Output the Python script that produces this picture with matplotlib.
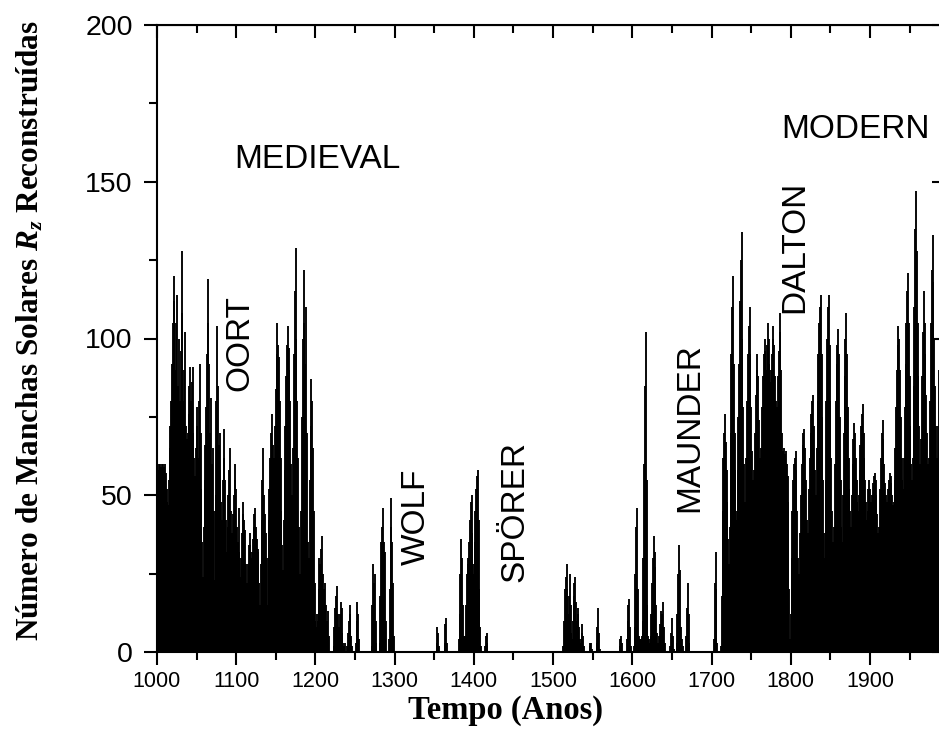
import numpy as np
import matplotlib
matplotlib.use("Agg")
import matplotlib.pyplot as plt
from matplotlib.ticker import MultipleLocator

# ---- data: reconstructed annual sunspot number, one list per century ----
r_1000 = [30, 46, 58, 60, 60, 59, 60, 58, 60, 59,
          60, 57, 52, 48, 47, 55, 65, 72, 80, 92,
          105, 112, 120, 90, 105, 114, 85, 72, 100, 80,
          96, 128, 108, 80, 90, 102, 72, 66, 68, 70,
          76, 85, 91, 80, 86, 91, 70, 62, 56, 65,
          72, 78, 62, 80, 92, 70, 52, 35, 24, 40,
          55, 66, 78, 95, 105, 119, 92, 70, 81, 60,
          55, 65, 45, 23, 50, 80, 104, 85, 66, 58,
          70, 48, 42, 55, 62, 71, 55, 42, 32, 40,
          50, 58, 65, 45, 34, 38, 44, 50, 55, 60]
r_1100 = [52, 40, 35, 46, 32, 24, 30, 38, 44, 48,
          42, 39, 28, 17, 22, 28, 34, 38, 34, 30,
          32, 36, 40, 44, 46, 40, 36, 33, 32, 22,
          15, 28, 42, 55, 65, 50, 44, 38, 30, 15,
          30, 42, 52, 62, 70, 76, 66, 58, 62, 72,
          84, 95, 105, 98, 94, 80, 62, 45, 34, 26,
          42, 58, 72, 88, 98, 104, 90, 97, 80, 60,
          50, 41, 65, 95, 115, 129, 100, 80, 62, 40,
          25, 17, 45, 75, 100, 122, 105, 92, 110, 70,
          35, 10, 30, 55, 72, 87, 80, 65, 45, 22]
r_1200 = [10, 8, 12, 10, 20, 30, 28, 33, 37, 25,
          18, 20, 22, 15, 8, 10, 13, 5, 0, 0,
          0, 0, 0, 2, 8, 14, 18, 21, 12, 6,
          8, 12, 16, 14, 6, 3, 2, 3, 0, 0,
          2, 6, 10, 15, 12, 5, 2, 0, 0, 0,
          0, 3, 10, 16, 12, 4, 0, 0, 0, 0,
          0, 0, 0, 0, 0, 0, 0, 0, 0, 0,
          0, 2, 15, 28, 22, 25, 10, 3, 0, 0,
          0, 3, 18, 35, 40, 46, 35, 28, 32, 10,
          0, 0, 0, 4, 20, 40, 49, 35, 22, 5]
r_1300 = [0, 0, 0, 0, 0, 0, 0, 0, 0, 0,
          0, 0, 0, 0, 0, 0, 0, 0, 0, 0,
          0, 0, 0, 0, 0, 0, 0, 0, 0, 0,
          0, 0, 0, 0, 0, 0, 0, 0, 0, 0,
          0, 0, 0, 0, 0, 0, 0, 0, 0, 0,
          0, 0, 0, 3, 8, 6, 2, 0, 0, 0,
          0, 0, 0, 3, 9, 11, 3, 0, 0, 0,
          0, 0, 0, 0, 0, 0, 0, 0, 0, 0,
          0, 4, 12, 25, 36, 30, 15, 5, 0, 5,
          15, 25, 30, 28, 35, 42, 48, 50, 38, 28]
r_1400 = [25, 35, 45, 52, 56, 58, 42, 20, 8, 2,
          0, 0, 0, 0, 2, 5, 6, 3, 0, 0] + [0] * 80
r_1500 = [0] * 13 + [2, 10, 20, 24, 28, 20, 12,
                     18, 25, 15, 6, 4, 10, 18, 22, 24, 16,
                     10, 12, 14, 8, 4, 3, 6, 9, 5, 2,
                     0, 0, 0, 0, 0, 0, 2, 3, 3, 1,
                     0, 0, 0, 0, 0, 3, 8, 14, 6, 1] + [0] * 24 + \
         [2, 4, 5, 3, 0, 0, 0, 0, 0, 4, 10, 15, 17, 8, 2, 0]
r_1600 = [0, 0, 2, 8, 25, 40, 46, 20, 5, 3,
          4, 4, 5, 10, 30, 60, 85, 102, 55, 15,
          5, 4, 3, 5, 12, 22, 30, 37, 32, 27,
          15, 6, 3, 2, 5, 9, 13, 10, 12, 16,
          8, 3, 0, 0, 0, 0, 0, 0, 2, 6,
          11, 5, 1, 0, 0, 0, 3, 12, 25, 34,
          26, 8, 3, 4, 2, 0, 0, 0, 5, 14,
          22, 12, 3] + [0] * 27
r_1700 = [0, 0, 0, 4, 22, 32, 20, 3, 0, 0,
          0, 0, 2, 18, 45, 62, 70, 76, 67, 58,
          48, 36, 28, 40, 70, 95, 110, 120, 92, 70,
          58, 45, 42, 58, 75, 92, 112, 125, 134, 100,
          78, 60, 48, 45, 62, 80, 95, 104, 110, 95,
          78, 64, 55, 50, 58, 70, 82, 90, 95, 88,
          74, 62, 56, 65, 78, 88, 95, 100, 96, 90,
          98, 105, 100, 92, 86, 90, 95, 100, 104, 98,
          88, 80, 72, 78, 88, 96, 102, 108, 90, 70,
          64, 62, 65, 63, 64, 60, 56, 48, 20, 4]
r_1800 = [12, 30, 45, 55, 60, 62, 64, 58, 45, 30,
          16, 25, 38, 50, 60, 66, 70, 71, 65, 55,
          42, 30, 38, 52, 62, 70, 76, 80, 82, 72,
          58, 45, 50, 65, 80, 95, 105, 110, 114, 95,
          75, 55, 38, 30, 55, 80, 100, 110, 114, 98,
          80, 62, 45, 35, 24, 40, 60, 80, 92, 98,
          103, 95, 75, 55, 40, 35, 50, 70, 88, 100,
          108, 95, 78, 62, 52, 45, 40, 50, 60, 68,
          73, 70, 62, 55, 48, 45, 50, 58, 66, 72,
          76, 79, 70, 62, 55, 48, 42, 45, 52, 55]
r_1900 = [52, 48, 45, 50, 54, 56, 57, 55, 50, 44,
          38, 32, 40, 52, 62, 70, 74, 68, 60, 54,
          50, 46, 48, 52, 55, 57, 56, 54, 50, 47,
          48, 55, 65, 78, 90, 98, 104, 100, 90, 75,
          62, 55, 52, 62, 78, 92, 105, 115, 121, 105,
          88, 72, 60, 55, 62, 85, 110, 135, 147, 128,
          105, 88, 72, 60, 55, 68, 88, 102, 115, 105,
          95, 82, 70, 60, 55, 62, 80, 105, 122, 133,
          118, 100, 85, 72, 62, 60, 72, 90, 100, 95]

centuries = [1000, 1100, 1200, 1300, 1400, 1500, 1600, 1700, 1800, 1900]
series = [r_1000, r_1100, r_1200, r_1300, r_1400,
          r_1500, r_1600, r_1700, r_1800, r_1900]

x_ticks = [1000, 1100, 1200, 1300, 1400, 1500, 1600, 1700, 1800, 1900]
y_ticks = [0, 50, 100, 150, 200]

labels = ["MEDIEVAL", "MODERN", "OORT", "DALTON", "WOLF", "SPÖRER", "MAUNDER"]
label_x = [1203, 1882, 1105, 1805, 1327, 1452, 1672]
label_y = [157, 166.7, 98.6, 129.3, 43.1, 44.7, 71.5]
label_rot = [0, 0, 90, 90, 90, 90, 90]

years = np.concatenate([c + np.arange(len(s)) for c, s in zip(centuries, series)])
values = np.concatenate([np.asarray(s, float) for s in series])

# ---- figure ----
plt.rcParams["font.family"] = ["Liberation Sans", "DejaVu Sans"]
plt.rcParams["mathtext.fontset"] = "custom"
plt.rcParams["mathtext.it"] = "Liberation Serif:bold:italic"
plt.rcParams["mathtext.rm"] = "Liberation Serif:bold"
plt.rcParams["mathtext.bf"] = "Liberation Serif:bold"

W, H = 939, 749
fig = plt.figure(figsize=(W / 100, H / 100), dpi=100)
x0, x1, ytop, ybot = 157, 949.2, 25, 652
ax = fig.add_axes([x0 / W, 1 - ybot / H, (x1 - x0) / W, (ybot - ytop) / H])

ax.vlines(years, 0, values, color="black", linewidth=1.35)

ax.set_xlim(1000, 2000)
ax.set_ylim(0, 200)

ax.xaxis.set_minor_locator(MultipleLocator(50))
ax.yaxis.set_minor_locator(MultipleLocator(25))
ax.set_xticks(x_ticks)
ax.set_yticks(y_ticks)
ax.set_xticklabels([str(v) for v in x_ticks], fontsize=15.5)
ax.set_yticklabels([str(v) for v in y_ticks], fontsize=20.5)

for s in ax.spines.values():
    s.set_linewidth(1.5)

ax.tick_params(axis="x", which="both", bottom=True, top=False, direction="out", width=1.5)
ax.tick_params(axis="y", which="both", left=True, right=False, direction="out", width=1.5)
ax.tick_params(which="major", length=9.5)
ax.tick_params(which="minor", length=5.8)
ax.tick_params(axis="x", which="major", pad=4)
ax.tick_params(axis="y", which="major", pad=8)

# inward ticks on top and right
axt = ax.secondary_xaxis("top")
axt.xaxis.set_major_locator(MultipleLocator(100))
axt.xaxis.set_minor_locator(MultipleLocator(50))
axt.tick_params(which="both", direction="in", width=1.5, labeltop=False)
axt.tick_params(which="major", length=9.5)
axt.tick_params(which="minor", length=5.8)
axr = ax.secondary_yaxis("right")
axr.yaxis.set_major_locator(MultipleLocator(50))
axr.yaxis.set_minor_locator(MultipleLocator(25))
axr.tick_params(which="both", direction="in", width=1.5, labelright=False)
axr.tick_params(which="major", length=12)
axr.tick_params(which="minor", length=5.8)

for t, xv, yv, r in zip(labels, label_x, label_y, label_rot):
    ax.text(xv, yv, t, rotation=r, ha="center", va="center", fontsize=24,
            color="black")

fig.text(506 / W, 1 - 710 / H, "Tempo (Anos)", ha="center", va="center",
         family="Liberation Serif", weight="bold", fontsize=23.5)
fig.text(30 / W, 1 - 331 / H, r"Número de Manchas Solares $R_z$ Reconstruídas",
         ha="center", va="center", rotation=90,
         family="Liberation Serif", weight="bold", fontsize=22.5)

fig.savefig("out.png", dpi=100)
